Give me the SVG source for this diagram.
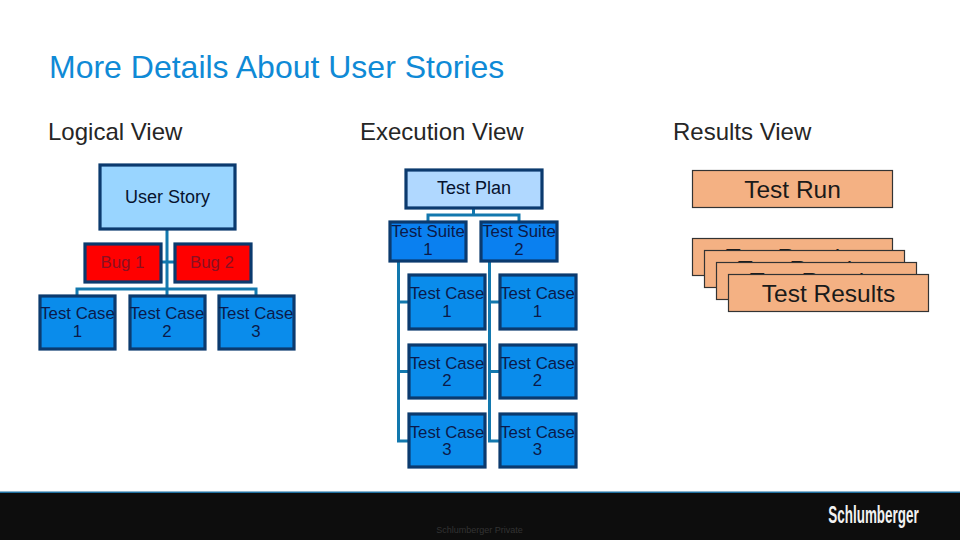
<svg xmlns="http://www.w3.org/2000/svg" width="960" height="540" viewBox="0 0 960 540">
<style>
text{font-family:"Liberation Sans",Arial,sans-serif;text-anchor:middle}
.head{font-size:24px;fill:#262626;text-anchor:start}
.title{font-size:32px;fill:#0f8ad6;text-anchor:start}
.n{stroke:#0b3a6e;stroke-width:3.2}
.story{fill:#99d5ff}
.plan{fill:#b0d8ff}
.bug{fill:#ff0000}
.case{fill:#0a8ceb}
.suite{fill:#0a80f0}
.res{fill:#f4b183;stroke:#333;stroke-width:1.2}
.t{font-size:16.800px;fill:#0b1a4a}
.tbug{font-size:16.800px;fill:#8a1022}
.tb{font-size:18px;fill:#06122e}
.tr{font-size:24.500px;fill:#1a1a1a}
.c{fill:none;stroke:#1278ae;stroke-width:3}
</style>
<rect width="960" height="540" fill="#fff"/>
<text class="title" x="49" y="78">More Details About User Stories</text>
<text class="head" x="48" y="140">Logical View</text>
<text class="head" x="360" y="140">Execution View</text>
<text class="head" x="673" y="140">Results View</text>
<g id="connectors">
<path class="c" d="M167 229V295M161 262H174M77 295V289H256V295"/>
<path class="c" d="M473.500 209V215M428 221V215H519V221"/>
<path class="c" d="M398.500 261V441H408M398.500 302H408M398.500 371.500H408"/>
<path class="c" d="M489.500 261V441H499M489.500 302H499M489.500 371.500H499"/>
</g>
<g id="user-story"><rect class="n story" x="100" y="165" width="135" height="64"/><text class="tb" x="167.500" y="203">User Story</text></g>
<g id="bug-1"><rect class="n bug" x="85" y="244" width="76" height="38"/><text class="tbug" x="122.500" y="268">Bug 1</text></g>
<g id="bug-2"><rect class="n bug" x="175" y="244" width="76" height="38"/><text class="tbug" x="212" y="268">Bug 2</text></g>
<g id="lv-case-1"><rect class="n case" x="40" y="296" width="75" height="53"/><text class="t" x="77.500" y="319">Test Case</text><text class="t" x="77.500" y="337">1</text></g>
<g id="lv-case-2"><rect class="n case" x="130" y="296" width="75" height="53"/><text class="t" x="167" y="319">Test Case</text><text class="t" x="167" y="337">2</text></g>
<g id="lv-case-3"><rect class="n case" x="219" y="296" width="75" height="53"/><text class="t" x="256" y="319">Test Case</text><text class="t" x="256" y="337">3</text></g>
<g id="test-plan"><rect class="n plan" x="406" y="170" width="136" height="38"/><text class="tb" x="474" y="194">Test Plan</text></g>
<g id="suite-1"><rect class="n suite" x="390" y="222" width="76" height="39"/><text class="t" x="428" y="237">Test Suite</text><text class="t" x="428" y="255">1</text></g>
<g id="suite-2"><rect class="n suite" x="481" y="222" width="76" height="39"/><text class="t" x="519" y="237">Test Suite</text><text class="t" x="519" y="255">2</text></g>
<g id="s1-case-1"><rect class="n case" x="409" y="275" width="76" height="54"/><text class="t" x="447" y="299">Test Case</text><text class="t" x="447" y="317">1</text></g>
<g id="s1-case-2"><rect class="n case" x="409" y="345" width="76" height="53"/><text class="t" x="447" y="369">Test Case</text><text class="t" x="447" y="386">2</text></g>
<g id="s1-case-3"><rect class="n case" x="409" y="414" width="76" height="53"/><text class="t" x="447" y="438">Test Case</text><text class="t" x="447" y="455">3</text></g>
<g id="s2-case-1"><rect class="n case" x="500" y="275" width="76" height="54"/><text class="t" x="537.500" y="299">Test Case</text><text class="t" x="537.500" y="317">1</text></g>
<g id="s2-case-2"><rect class="n case" x="500" y="345" width="76" height="53"/><text class="t" x="537.500" y="369">Test Case</text><text class="t" x="537.500" y="386">2</text></g>
<g id="s2-case-3"><rect class="n case" x="500" y="414" width="76" height="53"/><text class="t" x="537.500" y="438">Test Case</text><text class="t" x="537.500" y="455">3</text></g>
<g id="test-run"><rect class="res" x="692.500" y="170.500" width="200" height="37"/><text class="tr" x="792.500" y="198">Test Run</text></g>
<g id="results-1"><rect class="res" x="692.500" y="238.500" width="200" height="37"/><text class="tr" x="792.500" y="266">Test Results</text></g>
<g id="results-2"><rect class="res" x="704.500" y="250.500" width="200" height="37"/><text class="tr" x="804.500" y="278">Test Results</text></g>
<g id="results-3"><rect class="res" x="716.500" y="262.500" width="200" height="37"/><text class="tr" x="816.500" y="290">Test Results</text></g>
<g id="results-4"><rect class="res" x="728.500" y="274.500" width="200" height="37"/><text class="tr" x="828.500" y="302">Test Results</text></g>
<rect y="492" width="960" height="48" fill="#0d0d0d"/>
<rect y="491.500" width="960" height="1.500" fill="#1f6f9f"/>
<text x="479.500" y="533" font-size="9" fill="#333">Schlumberger Private</text>
<text transform="translate(873.500 523) scale(.56 1)" font-size="24" font-weight="700" fill="#f2f2f2">Schlumberger</text>
</svg>
